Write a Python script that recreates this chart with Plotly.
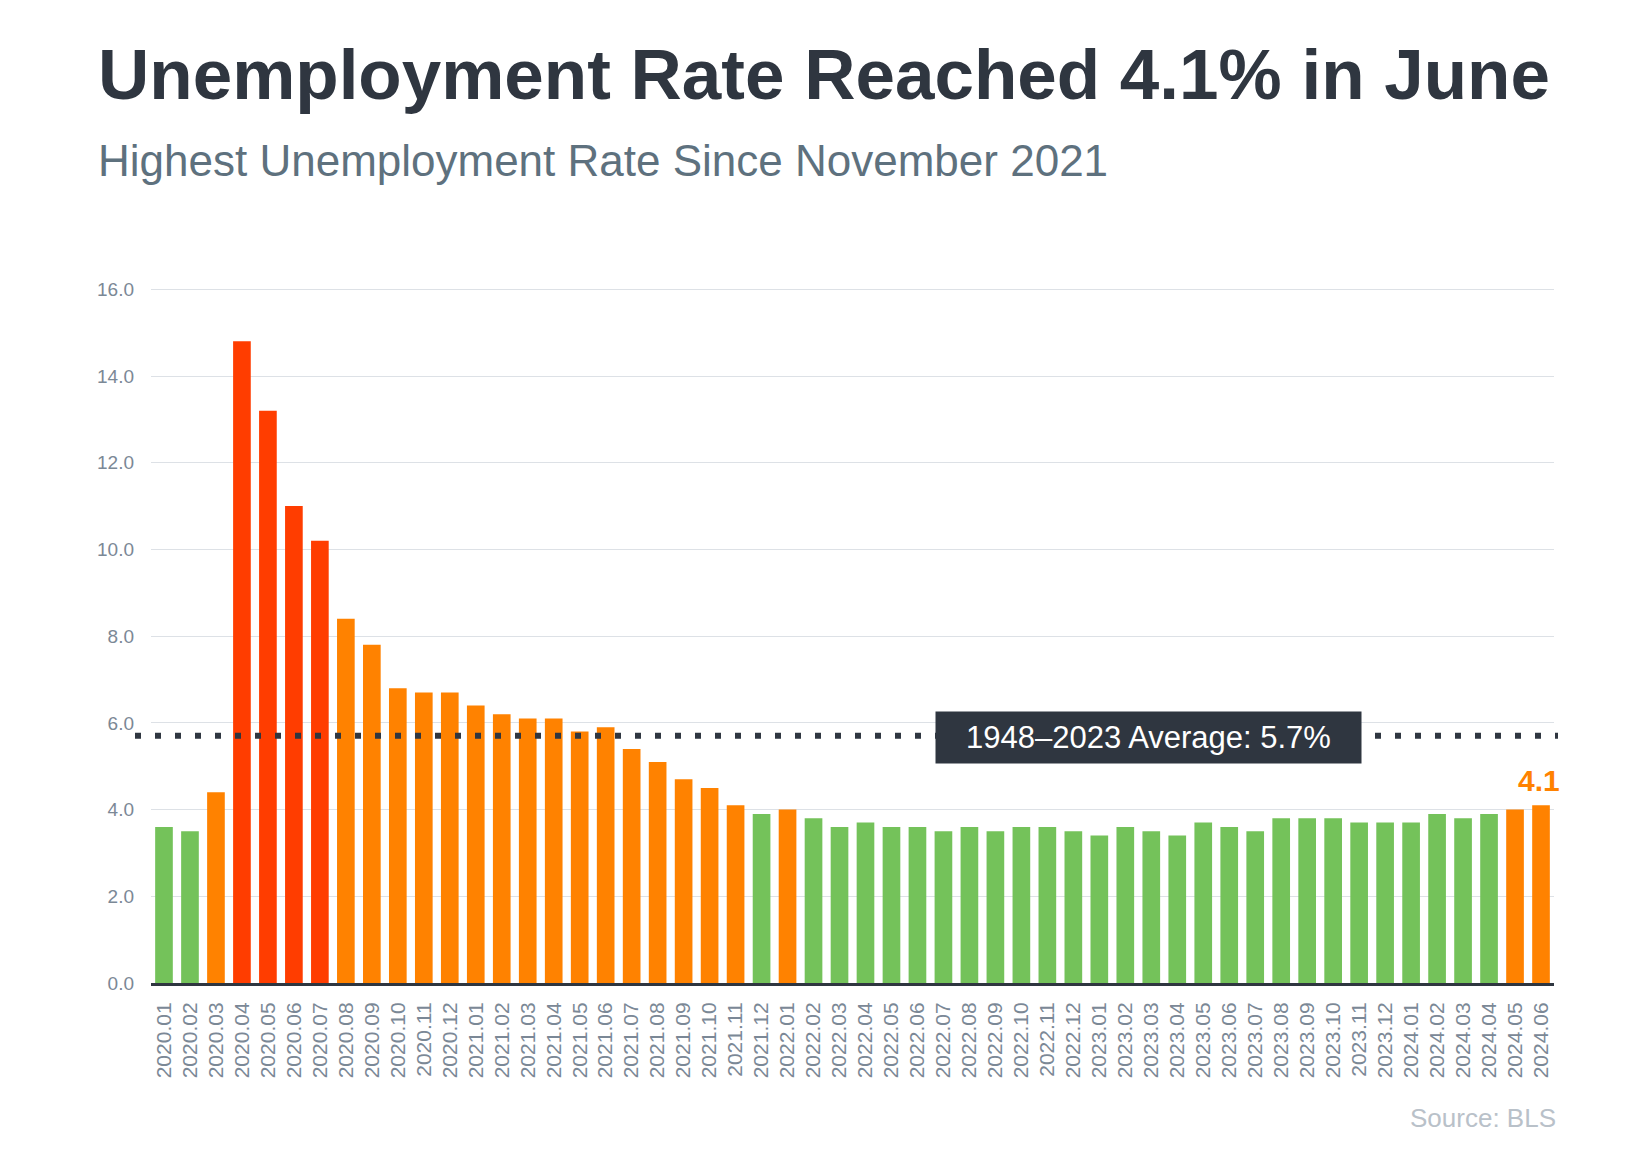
import plotly.graph_objects as go

months = [
    "2020.01","2020.02","2020.03","2020.04","2020.05","2020.06","2020.07","2020.08","2020.09","2020.10","2020.11","2020.12",
    "2021.01","2021.02","2021.03","2021.04","2021.05","2021.06","2021.07","2021.08","2021.09","2021.10","2021.11","2021.12",
    "2022.01","2022.02","2022.03","2022.04","2022.05","2022.06","2022.07","2022.08","2022.09","2022.10","2022.11","2022.12",
    "2023.01","2023.02","2023.03","2023.04","2023.05","2023.06","2023.07","2023.08","2023.09","2023.10","2023.11","2023.12",
    "2024.01","2024.02","2024.03","2024.04","2024.05","2024.06",
]
rates = [
    3.6, 3.5, 4.4, 14.8, 13.2, 11.0, 10.2, 8.4, 7.8, 6.8, 6.7, 6.7,
    6.4, 6.2, 6.1, 6.1, 5.8, 5.9, 5.4, 5.1, 4.7, 4.5, 4.1, 3.9,
    4.0, 3.8, 3.6, 3.7, 3.6, 3.6, 3.5, 3.6, 3.5, 3.6, 3.6, 3.5,
    3.4, 3.6, 3.5, 3.4, 3.7, 3.6, 3.5, 3.8, 3.8, 3.8, 3.7, 3.7,
    3.7, 3.9, 3.8, 3.9, 4.0, 4.1,
]
average = 5.7
y_ticks = [0, 2, 4, 6, 8, 10, 12, 14, 16]

GREEN, ORANGE, RED = "#74c25a", "#ff8200", "#ff3d00"
colors = [RED if v >= 10 else (ORANGE if v >= 4.0 else GREEN) for v in rates]

DARK = "#2f3640"
TICK = "#7b8896"

fig = go.Figure(go.Bar(x=months, y=rates, marker=dict(color=colors, line=dict(width=0))))

# page offset of the html body margin
OFF = 8
W, H = 1614, 1152
L, T = 151 - OFF, 288 - OFF
pw, ph = 1403, 695
R, B = W - L - pw, H - T - ph

def px(x):
    return (x - OFF - L) / pw

def py(y):
    return (T + ph - (y - OFF)) / ph

fig.update_layout(
    width=W, height=H,
    margin=dict(l=L, r=R, t=T, b=B, autoexpand=False),
    paper_bgcolor="white", plot_bgcolor="white",
    bargap=0.32,
    showlegend=False,
    font=dict(family="Liberation Sans, Arial, sans-serif"),
    xaxis=dict(
        type="category", range=[-0.5, len(months) - 0.5], tickangle=-90,
        tickfont=dict(size=21, color=TICK), tickmode="array",
        tickvals=list(range(len(months))), ticktext=months,
        showgrid=False, showline=True, linecolor=DARK, linewidth=3,
        ticks="", ticklen=0, ticklabelstandoff=8,
    ),
    yaxis=dict(
        range=[0, 16.03], tickvals=y_ticks, ticktext=[f"{v:.1f}" for v in y_ticks],
        tickfont=dict(size=19, color=TICK), showgrid=True, gridcolor="#dde1e6",
        gridwidth=1, zeroline=False, showline=False, ticks="", ticklabelstandoff=16,
    ),
)

fig.add_shape(
    type="line", xref="paper", yref="y",
    x0=px(135), x1=px(1558), y0=average, y1=average,
    line=dict(color=DARK, width=6, dash="6px,14px"),
)

fig.add_annotation(
    xref="paper", yref="y", x=px(1148), y=average,
    text=f"1948–2023 Average: {average}%", showarrow=False,
    font=dict(size=31, color="white"), bgcolor=DARK, yshift=-2,
    width=419, height=45, borderpad=3, xanchor="center", yanchor="middle",
)

fig.add_annotation(
    x=len(months) - 1, y=rates[-1], text=f"<b>{rates[-1]}</b>", showarrow=False,
    yanchor="bottom", yshift=6, xshift=-2, font=dict(size=30, color=ORANGE),
)

fig.add_annotation(
    xref="paper", yref="paper", x=px(96), y=py(75),
    text="<b>Unemployment Rate Reached 4.1% in June</b>", showarrow=False,
    xanchor="left", yanchor="middle", font=dict(size=71, color=DARK),
)
fig.add_annotation(
    xref="paper", yref="paper", x=px(96), y=py(160),
    text="Highest Unemployment Rate Since November 2021", showarrow=False,
    xanchor="left", yanchor="middle", font=dict(size=44, color="#5e717e"),
)
fig.add_annotation(
    xref="paper", yref="paper", x=px(1558), y=py(1118),
    text="Source: BLS", showarrow=False,
    xanchor="right", yanchor="middle", font=dict(size=26, color="#b9c1c9"),
)

fig.write_html("out.html")
